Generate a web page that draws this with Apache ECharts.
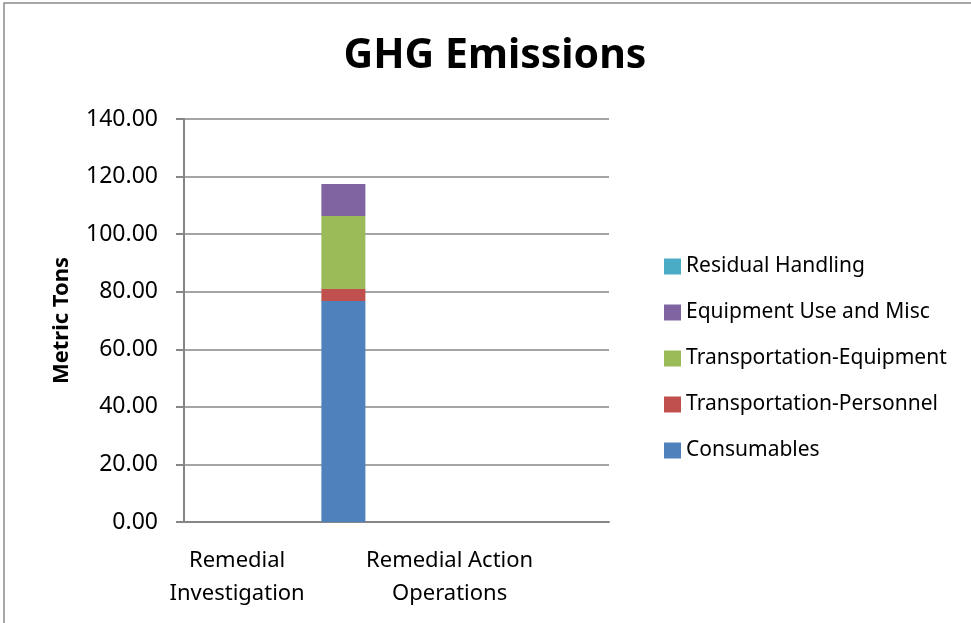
<!DOCTYPE html>
<html>
<head>
<meta charset="utf-8">
<script src="https://cdn.jsdelivr.net/npm/echarts@6/dist/echarts.min.js"></script>
<style>
	html, body { margin: 0; padding: 0; background: #fff; }
	#main { width: 971px; height: 623px; }
</style>
</head>
<body>
<div id="main"></div>
<script>
// categories (labels on every other category, as in the original)
var categories = ['Remedial\nInvestigation', 'Remedial Action\nConstruction', 'Remedial Action\nOperations', 'Long Term\nMonitoring'];
var seriesNames = ['Consumables', 'Transportation-Personnel', 'Transportation-Equipment', 'Equipment Use and Misc', 'Residual Handling'];
var seriesColors = ['#4F81BD', '#C0504D', '#9BBB59', '#8064A2', '#4BACC6'];
var consumables = [0, 76.8, 0, 0];
var transPersonnel = [0, 4.1, 0, 0];
var transEquipment = [0, 25.4, 0, 0];
var equipmentUse = [0, 11.1, 0, 0];
var residualHandling = [0, 0, 0, 0];
var seriesValues = [consumables, transPersonnel, transEquipment, equipmentUse, residualHandling];

function initChart() {
	var myChart = echarts.init(document.getElementById('main'));
	var font = 'Noto Sans';
	var series = seriesNames.map(function (name, i) {
		return {
			name: name,
			type: 'bar',
			stack: 'total',
			barWidth: 44,
			itemStyle: { color: seriesColors[i] },
			data: seriesValues[i]
		};
	});
	var option = {
		backgroundColor: '#fff',
		animation: false,
		graphic: [{
			type: 'rect',
			shape: { x: 4, y: 3, width: 1000, height: 700 },
			style: { fill: 'none', stroke: '#8a8a8a', lineWidth: 1.5 },
			silent: true
		}],
		title: {
			text: 'GHG Emissions',
			left: 490,
			top: 31,
			textAlign: 'center',
			textStyle: { fontFamily: font, fontWeight: 'bold', fontSize: 41, color: '#000' }
		},
		legend: {
			orient: 'vertical',
			left: 659,
			top: 251,
			itemWidth: 17,
			itemHeight: 16,
			itemGap: 25,
			icon: 'rect',
			data: seriesNames.slice().reverse(),
			textStyle: { fontFamily: font, fontSize: 21, color: '#000' }
		},
		grid: { left: 184, right: 362, top: 119, bottom: 101 },
		xAxis: {
			type: 'category',
			data: categories,
			axisLine: { lineStyle: { color: '#868686', width: 2 } },
			axisTick: { length: 7, lineStyle: { color: '#868686', width: 2 } },
			axisLabel: {
				interval: 1,
				margin: 22,
				lineHeight: 33,
				fontFamily: font,
				fontSize: 22,
				color: '#000'
			}
		},
		yAxis: {
			type: 'value',
			min: 0,
			max: 140,
			interval: 20,
			name: 'Metric Tons',
			nameLocation: 'middle',
			nameGap: 111,
			nameRotate: 90,
			nameTextStyle: { fontFamily: font, fontWeight: 'bold', fontSize: 22, color: '#000' },
			axisLine: { show: true, lineStyle: { color: '#868686', width: 2 } },
			axisTick: { show: true, length: 8, lineStyle: { color: '#868686', width: 2 } },
			splitLine: { lineStyle: { color: '#868686', width: 1.5 } },
			axisLabel: {
				margin: 26,
				fontFamily: font,
				fontSize: 23,
				color: '#000',
				formatter: function (v) { return v.toFixed(2); }
			}
		},
		series: series
	};
	myChart.setOption(option);
}
initChart();
</script>
</body>
</html>
